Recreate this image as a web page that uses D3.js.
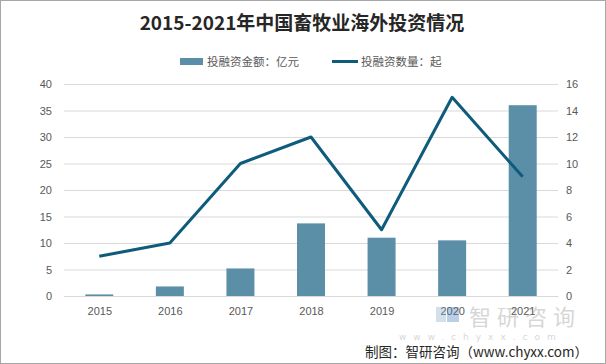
<!DOCTYPE html>
<html><head><meta charset="utf-8">
<script src="https://cdn.jsdelivr.net/npm/d3@7"></script>
<style>
body{margin:0;background:#fff;}
svg{display:block;font-family:"Noto Sans CJK SC","Noto Sans",sans-serif;}
</style></head>
<body><svg id="c" width="606" height="364"></svg>
<script>
const years = ["2015","2016","2017","2018","2019","2020","2021"];
const amount = [0.3, 1.8, 5.2, 13.7, 11.0, 10.5, 36.0];
const count = [3, 4, 10, 12, 5, 15, 9];
const leftTicks = [0,5,10,15,20,25,30,35,40];
const rightTicks = [0,2,4,6,8,10,12,14,16];

const svg = d3.select("#c");
const W = 606, H = 364;
svg.append("rect").attr("x",0.5).attr("y",0.5).attr("width",W-1).attr("height",H-1)
  .attr("fill","#fff").attr("stroke","#a6a6a6");

const m = {l:64, r:558, t:84, b:296};
const xc = d3.scalePoint().domain(years).range([m.l, m.r]).padding(0.5);
const yL = d3.scaleLinear().domain([0,40]).range([m.b, m.t]);
const yR = d3.scaleLinear().domain([0,16]).range([m.b, m.t]);

// gridlines
svg.append("g").selectAll("line").data(leftTicks).join("line")
  .attr("x1", m.l).attr("x2", m.r)
  .attr("y1", d=>yL(d)+0.5).attr("y2", d=>yL(d)+0.5)
  .attr("stroke", "#d9d9d9").attr("stroke-width",1);

const tickFont = "'Liberation Sans','DejaVu Sans',sans-serif";
// left axis
const la = svg.append("g").attr("transform",`translate(${m.l},0)`)
  .call(d3.axisLeft(yL).tickValues(leftTicks).tickSize(0).tickPadding(12));
la.select(".domain").remove();
la.selectAll("text").attr("fill","#595959").style("font-size","11px").style("font-family",tickFont);

const ra = svg.append("g").attr("transform",`translate(${m.r},0)`)
  .call(d3.axisRight(yR).tickValues(rightTicks).tickSize(0).tickPadding(8));
ra.select(".domain").remove();
ra.selectAll("text").attr("fill","#595959").style("font-size","11px").style("font-family",tickFont);

// bars
const bw = 28;
svg.append("g").selectAll("rect").data(years).join("rect")
  .attr("x", (d)=>xc(d)-bw/2).attr("width", bw)
  .attr("y", (d,i)=>yL(amount[i])).attr("height", (d,i)=>yL(0)-yL(amount[i]))
  .attr("fill", "#5b8fa8");

// bottom axis
const ba = svg.append("g").attr("transform",`translate(0,${m.b})`)
  .call(d3.axisBottom(xc).tickSize(0).tickPadding(11));
ba.select(".domain").attr("stroke","#d9d9d9");
ba.selectAll("text").attr("fill","#595959").style("font-size","11px").style("font-family",tickFont);

// line
const line = d3.line().x((d,i)=>xc(years[i])).y(d=>yR(d));
svg.append("path").datum(count).attr("d", line)
  .attr("fill","none").attr("stroke","#0e5b7b").attr("stroke-width",3).attr("stroke-linejoin","round");

// title
svg.append("text").attr("x",302).attr("y",30).attr("text-anchor","middle")
  .attr("fill","#262626").style("font-size","19px").style("font-weight","bold")
  .text("2015-2021年中国畜牧业海外投资情况");

// legend
const lg = svg.append("g");
lg.append("rect").attr("x",180).attr("y",58).attr("width",23).attr("height",7).attr("fill","#5b8fa8");
lg.append("text").attr("x",207).attr("y",66).attr("fill","#595959").style("font-size","11.5px").text("投融资金额：亿元");
lg.append("line").attr("x1",332).attr("x2",358).attr("y1",61.5).attr("y2",61.5).attr("stroke","#0e5b7b").attr("stroke-width",3);
lg.append("text").attr("x",361).attr("y",66).attr("fill","#595959").style("font-size","11.5px").text("投融资数量：起");

// watermark
const wm = svg.append("g").attr("opacity",0.35);
wm.append("rect").attr("x",436).attr("y",307).attr("width",10).attr("height",15).attr("fill","#7fa8c9");
wm.append("rect").attr("x",447).attr("y",307).attr("width",12).attr("height",15).attr("fill","#3d78b8");
wm.append("text").attr("x",469).attr("y",325).attr("fill","#8c8c8c").style("font-size","22px").style("letter-spacing","6px").text("智研咨询");
wm.append("text").attr("x",399).attr("y",340).attr("fill","#8c8c8c").style("font-size","9px").style("letter-spacing","7px").style("font-family","'DejaVu Sans',sans-serif").text("www.chyxx.com");

svg.append("text").attr("x",588).attr("y",357).attr("text-anchor","end")
  .attr("fill","#262626").style("font-size","13.5px").text("制图：智研咨询（www.chyxx.com）");
</script></body></html>
